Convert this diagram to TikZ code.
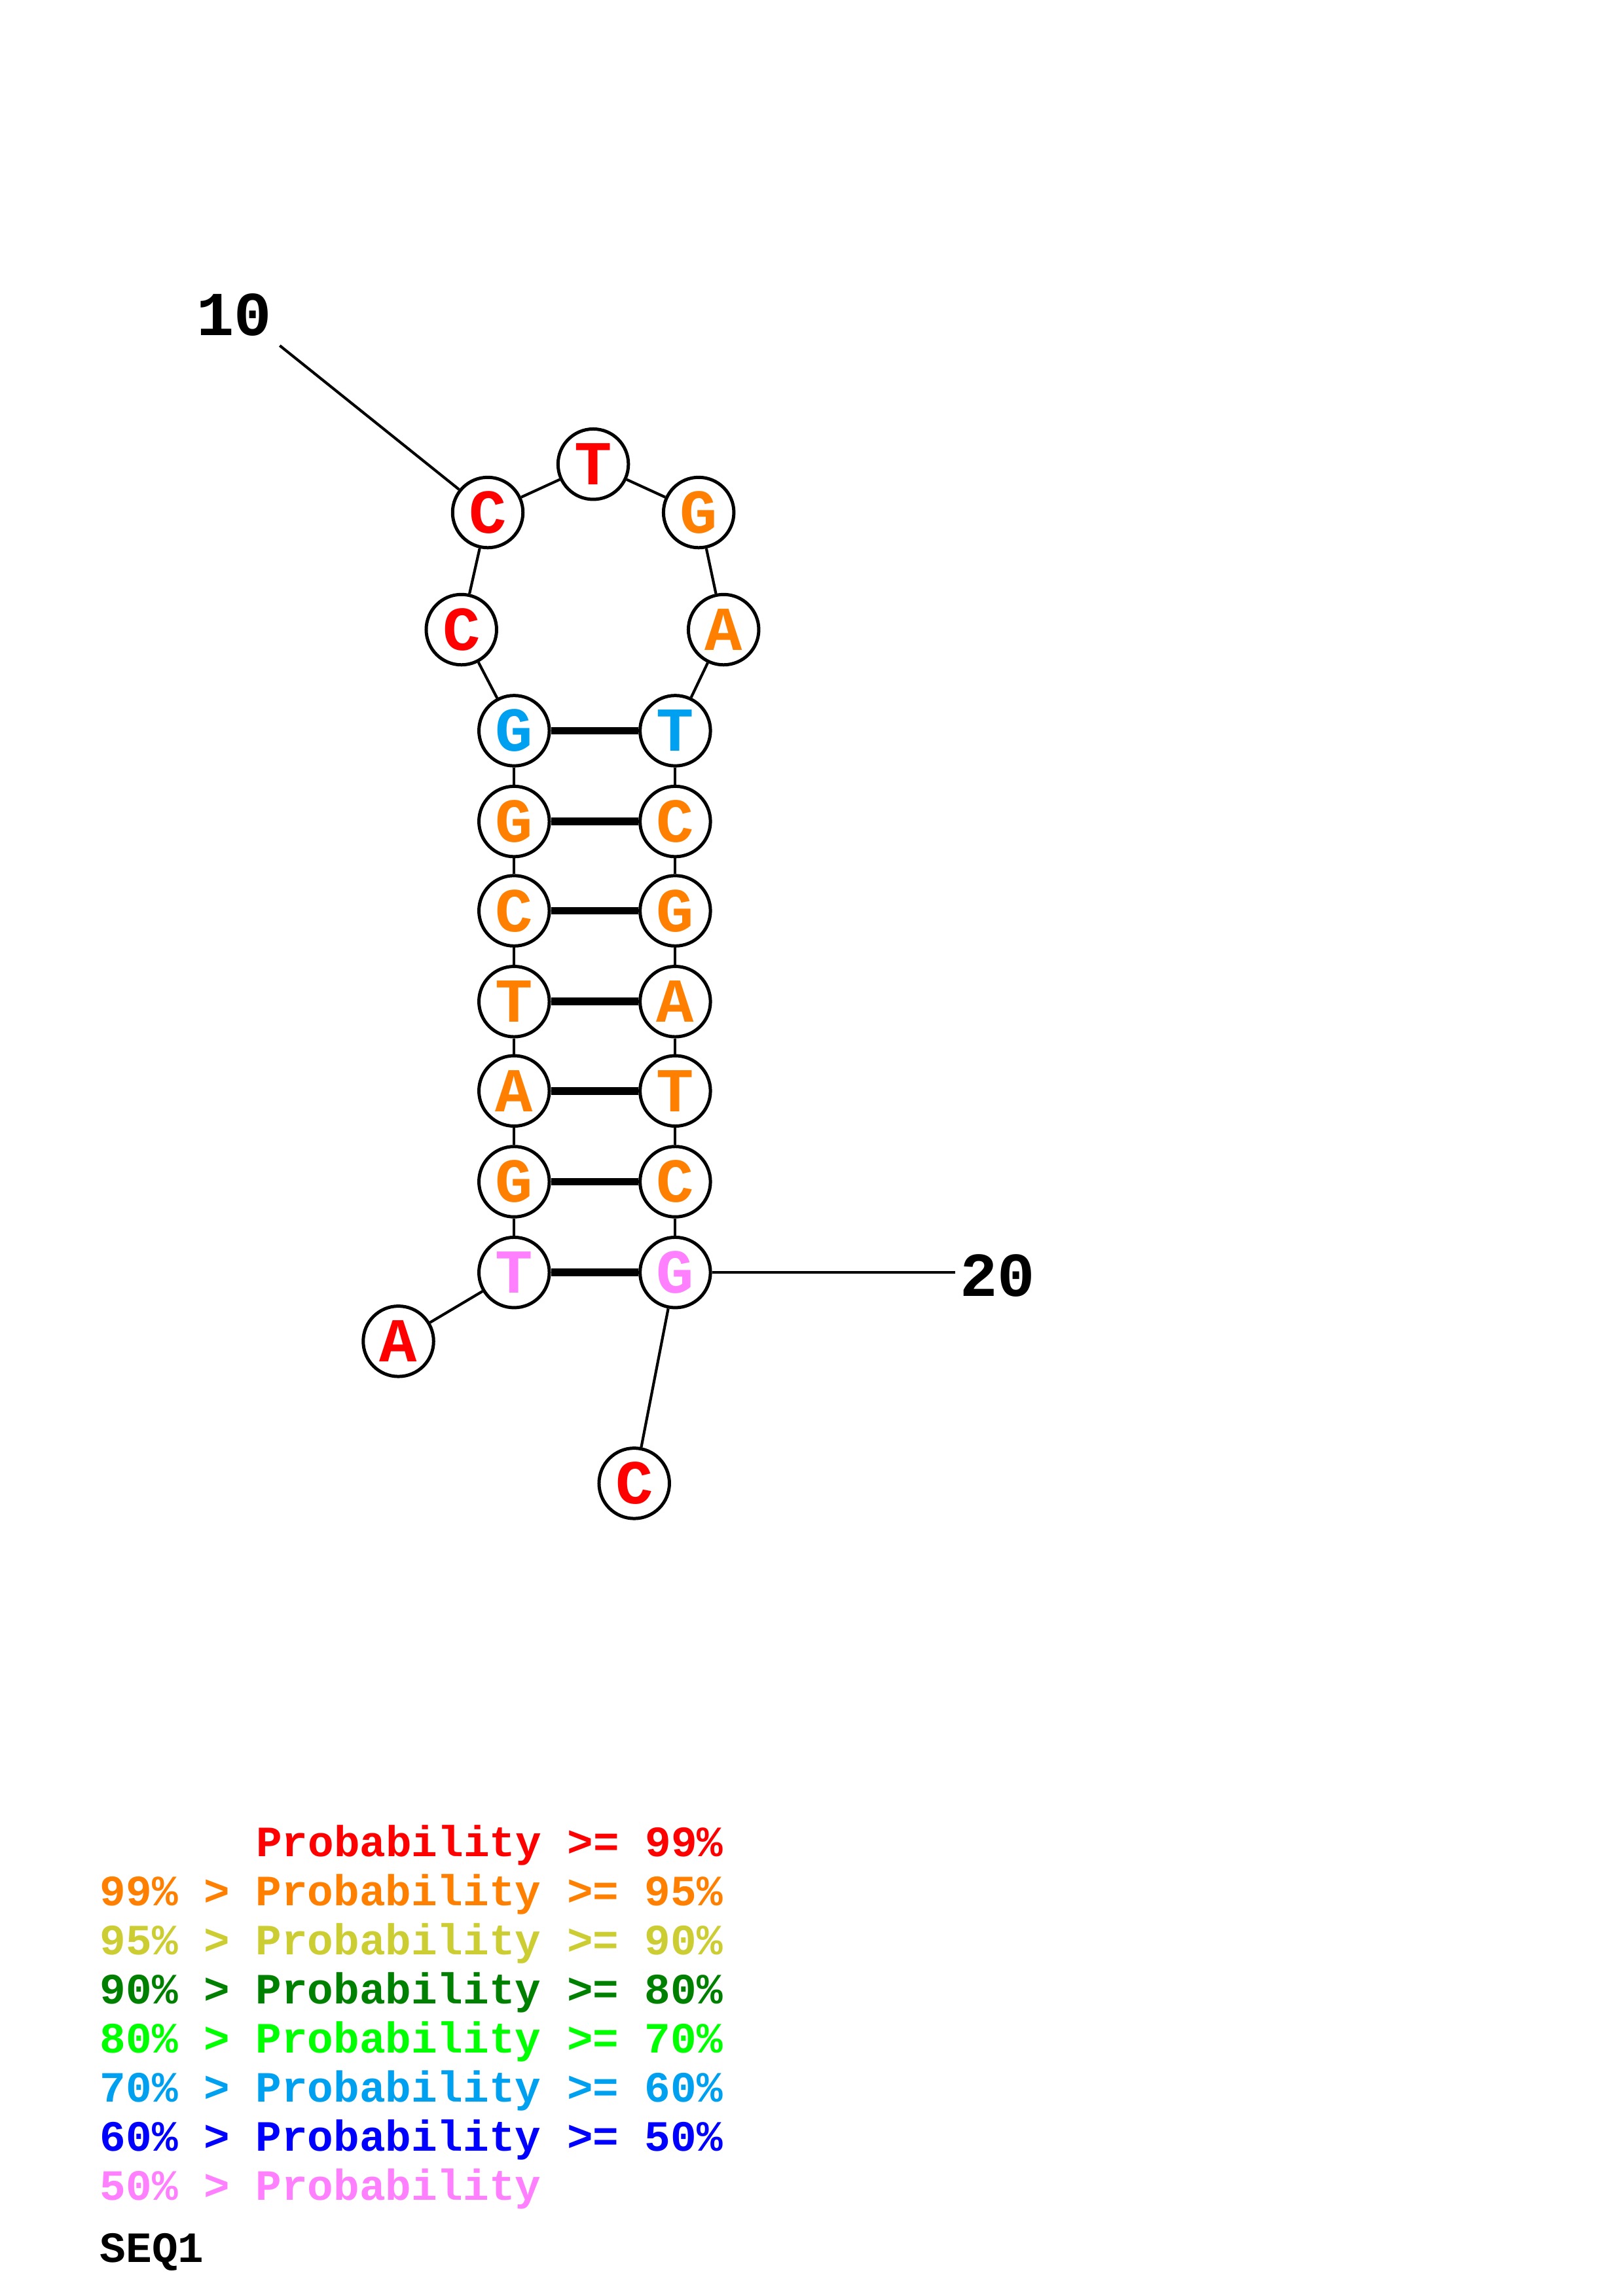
\documentclass[tikz,border=0pt]{standalone}
\usepackage{fontspec}
\setmonofont{Liberation Mono}
\usepackage{tikz}
\usetikzlibrary{positioning}

\definecolor{pred}{RGB}{255,0,0}
\definecolor{porange}{RGB}{255,128,0}
\definecolor{pyellow}{RGB}{204,204,51}
\definecolor{pdkgreen}{RGB}{0,128,0}
\definecolor{pgreen}{RGB}{0,255,0}
\definecolor{plblue}{RGB}{0,160,240}
\definecolor{pblue}{RGB}{0,0,255}
\definecolor{ppink}{RGB}{255,128,255}

\tikzset{
  base/.style={circle,draw,fill=white,line width=1.2pt,minimum size=0.91cm,
    inner sep=0pt,font=\ttfamily\bfseries\fontsize{23}{23}\selectfont},
  numlabel/.style={inner sep=0pt,font=\ttfamily\bfseries\fontsize{23}{23}\selectfont},
  bb/.style={line width=1pt},
  pair/.style={line width=2.8pt},
  legend/.style={anchor=base west,inner sep=0pt,
    font=\ttfamily\bfseries\fontsize{15.9}{16}\selectfont},
}

\begin{document}
\begin{tikzpicture}[x=0.018941cm,y=-0.018941cm]
      \useasboundingbox (0,0) rectangle (1108,1568);

      % bases
      \node[base,text=pred] (n1) at (272,916) {A};
      \node[base,text=ppink] (n2) at (351,869) {T};
      \node[base,text=porange] (n3) at (351,807) {G};
      \node[base,text=porange] (n4) at (351,745) {A};
      \node[base,text=porange] (n5) at (351,684) {T};
      \node[base,text=porange] (n6) at (351,622) {C};
      \node[base,text=porange] (n7) at (351,561) {G};
      \node[base,text=plblue] (n8) at (351,499) {G};
      \node[base,text=pred] (n9) at (315,430) {C};
      \node[base,text=pred] (n10) at (333,350) {C};
      \node[base,text=pred] (n11) at (405,317) {T};
      \node[base,text=porange] (n12) at (477,350) {G};
      \node[base,text=porange] (n13) at (494,430) {A};
      \node[base,text=plblue] (n14) at (461,499) {T};
      \node[base,text=porange] (n15) at (461,561) {C};
      \node[base,text=porange] (n16) at (461,622) {G};
      \node[base,text=porange] (n17) at (461,684) {A};
      \node[base,text=porange] (n18) at (461,745) {T};
      \node[base,text=porange] (n19) at (461,807) {C};
      \node[base,text=ppink] (n20) at (461,869) {G};
      \node[base,text=pred] (n21) at (433,1013) {C};

      % backbone and pairs
      \foreach \i [evaluate=\i as \j using int(\i+1)] in {1,...,20}
        \draw[bb] (n\i) -- (n\j);
      \foreach \a/\b in {2/20,3/19,4/18,5/17,6/16,7/15,8/14}
        \draw[pair] (n\a) -- (n\b);

      % numbering
      \node[numlabel] (lab10) at (160,215) {10};
      \coordinate (tick10) at (191,236);
      \draw[bb] (tick10) -- (n10);
      \node[numlabel] (lab20) at (681,871) {20};
      \coordinate (tick20) at (652,869);
      \draw[bb] (n20) -- (tick20);

      % legend
      \node[legend,text=pred] (leg1) at (174.5,1268) {Probability >= 99\%};
      \node[legend,text=porange] (leg2) at (68,1301.5) {99\% > Probability >= 95\%};
      \node[legend,text=pyellow] (leg3) at (68,1335) {95\% > Probability >= 90\%};
      \node[legend,text=pdkgreen] (leg4) at (68,1368.5) {90\% > Probability >= 80\%};
      \node[legend,text=pgreen] (leg5) at (68,1402) {80\% > Probability >= 70\%};
      \node[legend,text=plblue] (leg6) at (68,1435.5) {70\% > Probability >= 60\%};
      \node[legend,text=pblue] (leg7) at (68,1469) {60\% > Probability >= 50\%};
      \node[legend,text=ppink] (leg8) at (68,1502.5) {50\% > Probability};
      \node[legend] (seq) at (68,1545) {SEQ1};
\end{tikzpicture}
\end{document}
